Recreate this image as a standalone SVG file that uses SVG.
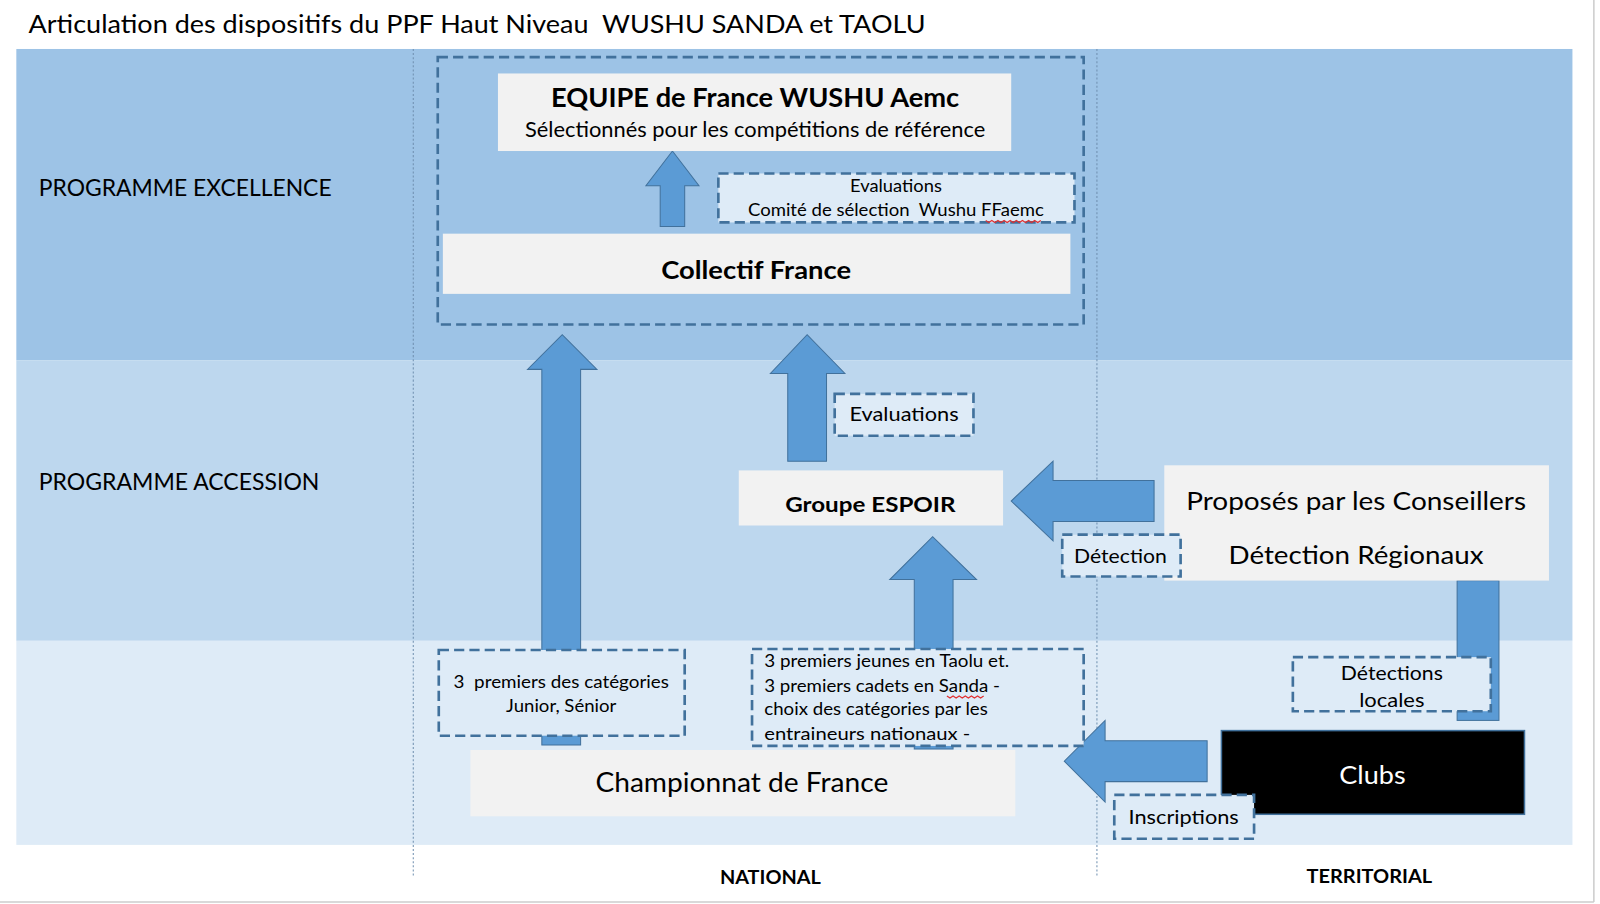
<svg xmlns="http://www.w3.org/2000/svg" width="1600" height="904" viewBox="0 0 1600 904">
<style>
text{font-family:Lato,"Liberation Sans",Arial,sans-serif;fill:#000}
.c{text-anchor:middle}
.b{font-weight:bold}
.box{fill:#F2F2F2}
.dash{fill:#DEEBF7;stroke:#41719C;stroke-width:2.6;stroke-dasharray:10 5}
.arr{fill:#5B9BD5;stroke:#41719C;stroke-width:1}
.vl{stroke:#6F8FAF;stroke-width:1;stroke-dasharray:2 2;fill:none}
.sq{fill:none;stroke:#E03030;stroke-width:1.2}
</style>
<rect width="1600" height="904" fill="#FFFFFF"/>
<g transform="scale(1.0204)">
<line x1="1562" y1="0" x2="1562" y2="884" stroke="#CCCCCC" stroke-width="1.5"/>
<line x1="0" y1="884" x2="1562" y2="884" stroke="#CCCCCC" stroke-width="1.5"/>
<g id="bands">
<rect x="16" y="48" width="1525" height="305" fill="#9DC3E6"/>
<rect x="16" y="353" width="1525" height="275" fill="#BDD7EE"/>
<rect x="16" y="628" width="1525" height="200" fill="#DEEBF7"/>
<line class="vl" x1="405" y1="48" x2="405" y2="860"/>
<line class="vl" x1="1075" y1="48" x2="1075" y2="860"/>
</g>
<g id="title"><text x="28" y="32" font-size="24" xml:space="preserve" textLength="879" lengthAdjust="spacingAndGlyphs">Articulation des dispositifs du PPF Haut Niveau  WUSHU SANDA et TAOLU</text></g>
<g id="labels">
<text x="38" y="192" font-size="22" textLength="287" lengthAdjust="spacingAndGlyphs">PROGRAMME EXCELLENCE</text>
<text x="38" y="480" font-size="22" textLength="275" lengthAdjust="spacingAndGlyphs">PROGRAMME ACCESSION</text>
<text x="755" y="866" font-size="18" class="c b" textLength="99" lengthAdjust="spacingAndGlyphs">NATIONAL</text>
<text x="1342" y="865" font-size="18" class="c b" textLength="123" lengthAdjust="spacingAndGlyphs">TERRITORIAL</text>
</g>
<g id="excellence-frame"><rect x="429" y="56" width="633" height="262" fill="none" stroke="#41719C" stroke-width="2.6" stroke-dasharray="10 5"/></g>
<g id="connectors">
<polygon class="arr" points="647,222 647,182 633,182 659,148 685,182 671,182 671,222"/>
<polygon class="arr" points="531,730 531,362 517,362 551,328 585,362 569,362 569,730"/>
<polygon class="arr" points="772,452 772,366 755,366 791,328 828,366 810,366 810,452"/>
<polygon class="arr" points="896,734 896,568 872,568 914,526 957,568 934,568 934,734"/>
<polygon class="arr" points="1131,471 1032,471 1032,452 991,491 1032,530 1032,511 1131,511"/>
<polygon class="arr" points="1183,726 1083,726 1083,706 1043,746 1083,786 1083,766 1183,766"/>
<rect class="arr" x="1428" y="569" width="41" height="137"/>
</g>
<g id="equipe">
<rect class="box" x="488" y="72" width="503" height="76"/>
<text x="740" y="105" font-size="26" class="c b" textLength="400" lengthAdjust="spacingAndGlyphs">EQUIPE de France WUSHU Aemc</text>
<text x="740" y="134" font-size="20" class="c" textLength="451" lengthAdjust="spacingAndGlyphs">Sélectionnés pour les compétitions de référence</text>
</g>
<g id="eval-comite">
<rect class="dash" x="704" y="170" width="349" height="48"/>
<text x="878" y="188" font-size="16" class="c" textLength="90" lengthAdjust="spacingAndGlyphs">Evaluations</text>
<text x="878" y="212" font-size="16" class="c" xml:space="preserve" textLength="290" lengthAdjust="spacingAndGlyphs">Comité de sélection  Wushu FFaemc</text>
<path class="sq" d="M966,216 l3,2 l3,-2 l3,2 l3,-2 l3,2 l3,-2 l3,2 l3,-2 l3,2 l3,-2 l3,2 l3,-2 l3,2 l3,-2 l3,2 l3,-2 l3,2 l3,-2"/>
</g>
<g id="collectif">
<rect class="box" x="434" y="229" width="615" height="59"/>
<text x="741" y="273" font-size="25" class="c b" textLength="186" lengthAdjust="spacingAndGlyphs">Collectif France</text>
</g>
<g id="eval-mid">
<rect class="dash" x="818" y="386" width="136" height="41"/>
<text x="886" y="413" font-size="19" class="c" textLength="107" lengthAdjust="spacingAndGlyphs">Evaluations</text>
</g>
<g id="espoir">
<rect class="box" x="724" y="461" width="259" height="54"/>
<text x="853" y="502" font-size="21" class="c b" textLength="167" lengthAdjust="spacingAndGlyphs">Groupe ESPOIR</text>
</g>
<g id="conseillers">
<rect class="box" x="1141" y="456" width="377" height="113"/>
<text x="1329" y="500" font-size="25" class="c" textLength="333" lengthAdjust="spacingAndGlyphs">Proposés par les Conseillers</text>
<text x="1329" y="553" font-size="25" class="c" textLength="250" lengthAdjust="spacingAndGlyphs">Détection Régionaux</text>
</g>
<g id="detection">
<rect class="dash" x="1041" y="524" width="116" height="41"/>
<text x="1098" y="552" font-size="19" class="c" textLength="91" lengthAdjust="spacingAndGlyphs">Détection</text>
</g>
<g id="premiers-jr">
<rect class="dash" x="430" y="637" width="241" height="84"/>
<text x="550" y="674" font-size="17" class="c" xml:space="preserve" textLength="211" lengthAdjust="spacingAndGlyphs">3  premiers des catégories</text>
<text x="550" y="698" font-size="17" class="c" textLength="108" lengthAdjust="spacingAndGlyphs">Junior, Sénior</text>
</g>
<g id="premiers-jeunes">
<rect class="dash" x="737" y="636" width="325" height="95"/>
<text x="749" y="654" font-size="17" textLength="240" lengthAdjust="spacingAndGlyphs">3 premiers jeunes en Taolu et.</text>
<text x="749" y="678" font-size="17" textLength="231" lengthAdjust="spacingAndGlyphs">3 premiers cadets en Sanda -</text>
<text x="749" y="701" font-size="17" textLength="219" lengthAdjust="spacingAndGlyphs">choix des catégories par les</text>
<text x="749" y="725" font-size="17" textLength="202" lengthAdjust="spacingAndGlyphs">entraineurs nationaux -</text>
<path class="sq" d="M928,682 l3,2 l3,-2 l3,2 l3,-2 l3,2 l3,-2 l3,2 l3,-2 l3,2 l3,-2 l3,2 l3,-2"/>
</g>
<g id="championnat">
<rect class="box" x="461" y="735" width="534" height="65"/>
<text x="727" y="776" font-size="26" class="c" textLength="287" lengthAdjust="spacingAndGlyphs">Championnat de France</text>
</g>
<g id="detections-locales">
<rect class="dash" x="1267" y="644" width="194" height="53"/>
<text x="1364" y="666" font-size="19" class="c" textLength="100" lengthAdjust="spacingAndGlyphs">Détections</text>
<text x="1364" y="693" font-size="19" class="c" textLength="64" lengthAdjust="spacingAndGlyphs">locales</text>
</g>
<g id="clubs">
<rect x="1197" y="716" width="297" height="82" fill="#000" stroke="#41719C" stroke-width="1.5"/>
<text x="1345" y="768" font-size="25" class="c" style="fill:#fff" textLength="65" lengthAdjust="spacingAndGlyphs">Clubs</text>
</g>
<g id="inscriptions">
<rect class="dash" x="1092" y="779" width="137" height="43"/>
<text x="1160" y="808" font-size="19" class="c" textLength="108" lengthAdjust="spacingAndGlyphs">Inscriptions</text>
</g>
</g>
</svg>
